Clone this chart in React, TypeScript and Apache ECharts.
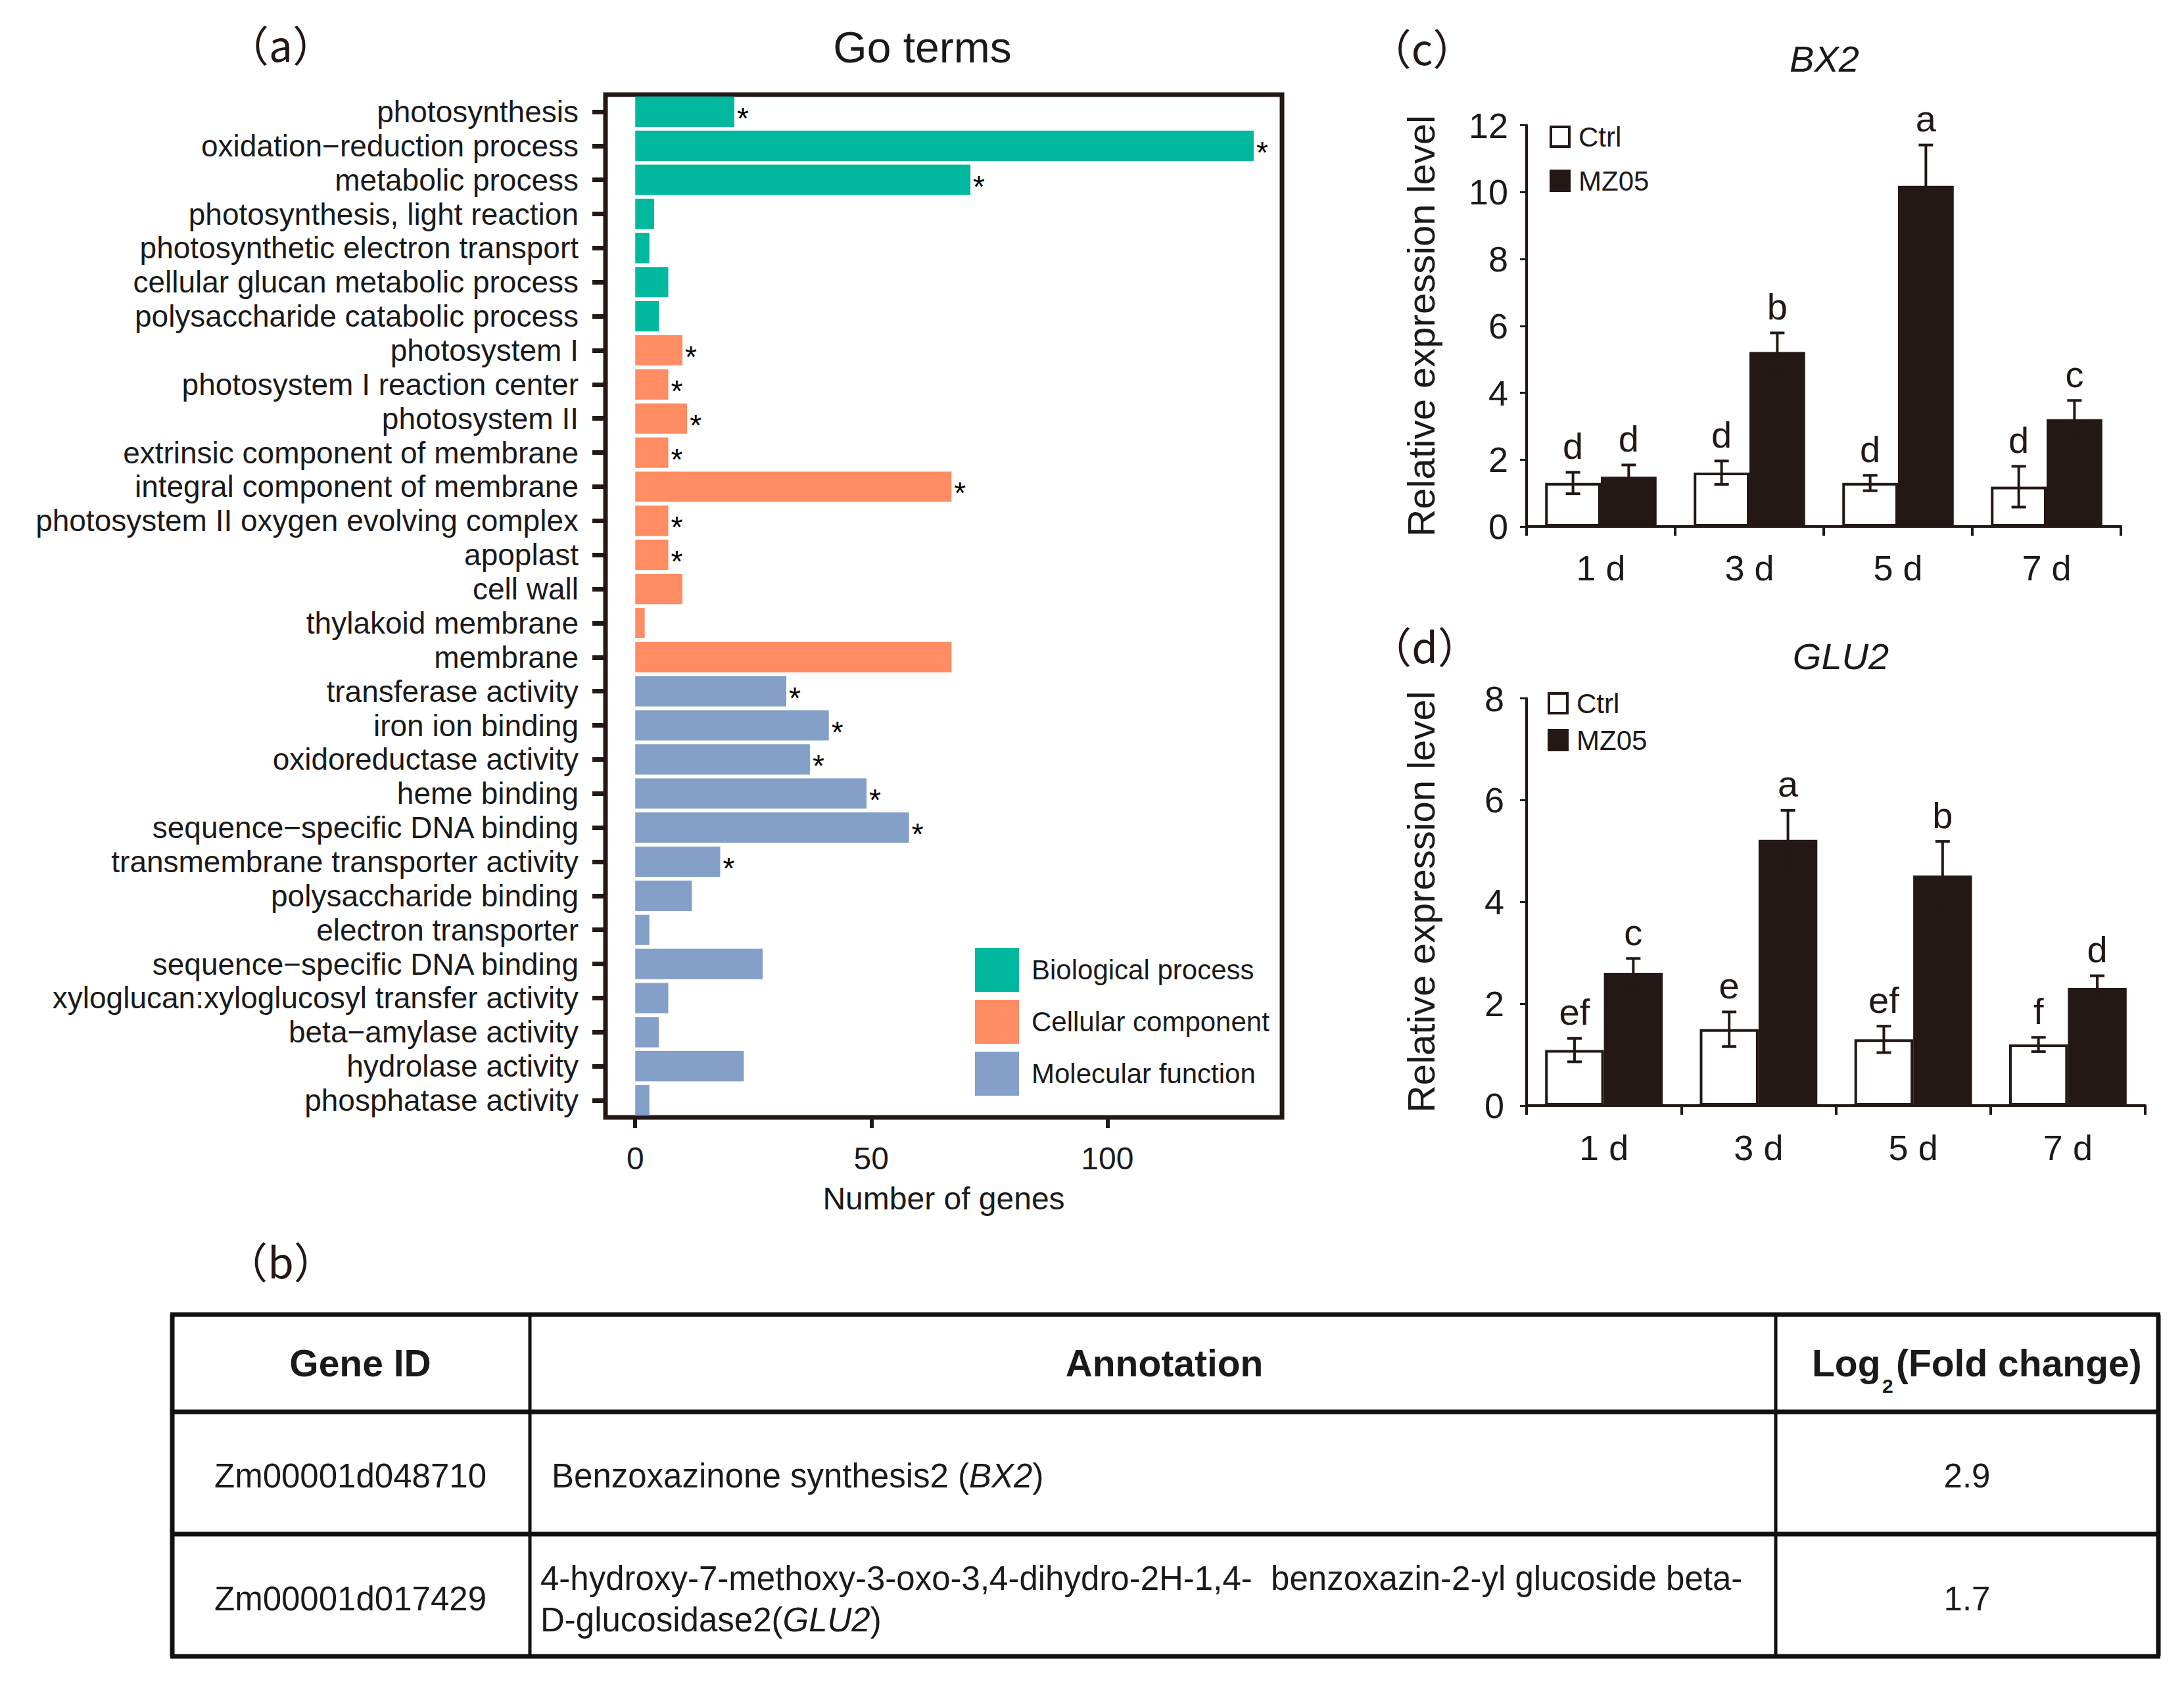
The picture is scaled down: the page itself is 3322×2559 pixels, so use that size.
import React, { useEffect, useRef } from 'react';
import * as echarts from 'echarts';

// ---------- Panel (a) data ----------
const goTerms = [
  'photosynthesis',
  'oxidation\u2212reduction process',
  'metabolic process',
  'photosynthesis, light reaction',
  'photosynthetic electron transport',
  'cellular glucan metabolic process',
  'polysaccharide catabolic process',
  'photosystem I',
  'photosystem I reaction center',
  'photosystem II',
  'extrinsic component of membrane',
  'integral component of membrane',
  'photosystem II oxygen evolving complex',
  'apoplast',
  'cell wall',
  'thylakoid membrane',
  'membrane',
  'transferase activity',
  'iron ion binding',
  'oxidoreductase activity',
  'heme binding',
  'sequence\u2212specific DNA binding',
  'transmembrane transporter activity',
  'polysaccharide binding',
  'electron transporter',
  'sequence\u2212specific DNA binding',
  'xyloglucan:xyloglucosyl transfer activity',
  'beta\u2212amylase activity',
  'hydrolase activity',
  'phosphatase activity',
];
const goValues = [21, 131, 71, 4, 3, 7, 5, 10, 7, 11, 7, 67, 7, 7, 10, 2, 67, 32, 41, 37, 49, 58, 18, 12, 3, 27, 7, 5, 23, 3];
// 0 = Biological process, 1 = Cellular component, 2 = Molecular function
const goGroup = [0, 0, 0, 0, 0, 0, 0, 1, 1, 1, 1, 1, 1, 1, 1, 1, 1, 2, 2, 2, 2, 2, 2, 2, 2, 2, 2, 2, 2, 2];
const goSignificant = [1, 1, 1, 0, 0, 0, 0, 1, 1, 1, 1, 1, 1, 1, 0, 0, 0, 1, 1, 1, 1, 1, 1, 0, 0, 0, 0, 0, 0, 0];
const goGroupNames = ['Biological process', 'Cellular component', 'Molecular function'];
const goXTicks = [0, 50, 100];

// ---------- Panel (c) data : BX2 ----------
const days = ['1 d', '3 d', '5 d', '7 d'];
const bx2Ctrl = [1.3, 1.61, 1.3, 1.19];
const bx2CtrlErr = [0.32, 0.35, 0.23, 0.61];
const bx2Mz = [1.49, 5.22, 10.19, 3.21];
const bx2MzErr = [0.35, 0.57, 1.22, 0.56];
const bx2CtrlLetters = ['d', 'd', 'd', 'd'];
const bx2MzLetters = ['d', 'b', 'a', 'c'];

// ---------- Panel (d) data : GLU2 ----------
const glu2Ctrl = [1.09, 1.5, 1.3, 1.2];
const glu2CtrlErr = [0.23, 0.34, 0.26, 0.14];
const glu2Mz = [2.61, 5.22, 4.52, 2.31];
const glu2MzErr = [0.28, 0.58, 0.67, 0.24];
const glu2CtrlLetters = ['ef', 'e', 'ef', 'f'];
const glu2MzLetters = ['c', 'a', 'b', 'd'];

// ---------- Panel (b) table ----------
const tableHeaders = ['Gene ID', 'Annotation'];
const geneIds = ['Zm00001d048710', 'Zm00001d017429'];
const annotationRow1 = ['Benzoxazinone synthesis2 (', 'BX2', ')'];
const annotationRow2Line1 = '4-hydroxy-7-methoxy-3-oxo-3,4-dihydro-2H-1,4-  benzoxazin-2-yl glucoside beta-';
const annotationRow2Line2 = ['D-glucosidase2(', 'GLU2', ')'];
const foldChanges = ['2.9', '1.7'];

// ---------- styles ----------
const FONT = 'Liberation Sans, Arial, sans-serif';
const CJK = 'Noto Sans CJK SC, sans-serif';
const DARK = '#231815';
const TEXT = '#1a1a1a';
const GO_COLORS = ['#00B89E', '#FF8C62', '#849FC8'];
const GAP_C = 0.25;
const GAP_D = 0.24;
const BODY = 51;
const HEAD = 57;

function makeErrRender(ctrlLetters: string[], mzLetters: string[], gap: number) {
  return (params: any, api: any) => {
    const cat = api.value(0);
    const val = api.value(1);
    const err = api.value(2);
    const side = api.value(3);
    const center = api.coord([cat, val]);
    const band = api.size([1, 0])[0];
    const bw = (band * (1 - gap)) / 2;
    const x = center[0] + (side === 0 ? -bw / 2 : bw / 2);
    const yTop = api.coord([cat, val + err])[1];
    const yBot = api.coord([cat, val - err])[1];
    const cap = 11;
    const ls = { stroke: DARK, lineWidth: 4 };
    const letter = side === 0 ? ctrlLetters[cat] : mzLetters[cat];
    return {
      type: 'group',
      children: [
        { type: 'line', shape: { x1: x, y1: yTop, x2: x, y2: yBot }, style: ls },
        { type: 'line', shape: { x1: x - cap, y1: yTop, x2: x + cap, y2: yTop }, style: ls },
        { type: 'line', shape: { x1: x - cap, y1: yBot, x2: x + cap, y2: yBot }, style: ls },
        {
          type: 'text',
          x: x,
          y: yTop - 12,
          style: {
            text: letter,
            fontSize: 56,
            fontFamily: FONT,
            fill: DARK,
            align: 'center',
            verticalAlign: 'bottom',
          },
        },
      ],
    };
  };
}

function errData(ctrl: number[], ctrlErr: number[], mz: number[], mzErr: number[]) {
  const out: number[][] = [];
  ctrl.forEach((v, i) => out.push([i, v, ctrlErr[i], 0]));
  mz.forEach((v, i) => out.push([i, v, mzErr[i], 1]));
  return out;
}

function buildOption(): any {
  const goSeries = goGroupNames.map((name, k) => ({
    type: 'bar',
    name,
    xAxisIndex: 0,
    yAxisIndex: 0,
    barGap: '-100%',
    barCategoryGap: '11%',
    itemStyle: { color: GO_COLORS[k] },
    label: {
      show: false,
      position: 'right',
      distance: 4,
      offset: [0, 10],
      formatter: '*',
      fontSize: 46,
      fontFamily: FONT,
      color: '#000',
    },
    data: goValues.map((v, i) =>
      goGroup[i] === k ? { value: v, label: { show: goSignificant[i] === 1 } } : '-'
    ),
  }));

  const ctrlStyle = { color: '#ffffff', borderColor: DARK, borderWidth: 4 };
  const mzStyle = { color: DARK, borderColor: DARK, borderWidth: 4 };

  const qAxisLabel = { fontSize: 54, fontFamily: FONT, color: TEXT };

  const graphic: any[] = [];
  const panelLetter = (t: string, x: number, y: number) => ({
    type: 'text',
    x,
    y,
    style: { text: t, fontSize: 64, fontFamily: CJK, fill: DARK, align: 'center', verticalAlign: 'middle' },
  });
  graphic.push(panelLetter('（a）', 427, 66));
  graphic.push(panelLetter('（b）', 427, 1917));
  graphic.push(panelLetter('（c）', 2163, 71));
  graphic.push(panelLetter('（d）', 2167, 981));

  graphic.push({
    type: 'text',
    x: 1403,
    y: 72,
    style: { text: 'Go terms', fontSize: 66, fontFamily: FONT, fill: TEXT, align: 'center', verticalAlign: 'middle' },
  });
  graphic.push({
    type: 'text',
    x: 2775,
    y: 89,
    style: { text: 'BX2', fontSize: 56, fontStyle: 'italic', fontFamily: FONT, fill: TEXT, align: 'center', verticalAlign: 'middle' },
  });
  graphic.push({
    type: 'text',
    x: 2800,
    y: 998,
    style: { text: 'GLU2', fontSize: 56, fontStyle: 'italic', fontFamily: FONT, fill: TEXT, align: 'center', verticalAlign: 'middle' },
  });

  // ---- table (b) ----
  const colX = [262, 806, 2701, 3283];
  const rowY = [2000, 2148, 2334, 2520];
  rowY.forEach((y) =>
    graphic.push({
      type: 'line',
      shape: { x1: colX[0] - 3, y1: y, x2: colX[3] + 3, y2: y },
      style: { stroke: '#111', lineWidth: 7 },
    })
  );
  colX.forEach((x, i) =>
    graphic.push({
      type: 'line',
      shape: { x1: x, y1: rowY[0], x2: x, y2: rowY[3] },
      style: { stroke: '#111', lineWidth: i === 0 || i === 3 ? 7 : 5 },
    })
  );
  const txt = (t: string, x: number, y: number, size: number, align = 'center', weight = 'normal') => ({
    type: 'text',
    x,
    y,
    style: {
      text: t,
      fontSize: size,
      fontFamily: FONT,
      fontWeight: weight,
      fill: TEXT,
      align,
      verticalAlign: 'middle',
    },
  });
  const richTxt = (parts: string[], x: number, y: number) => ({
    type: 'text',
    x,
    y,
    style: {
      text: `{n|${parts[0]}}{i|${parts[1]}}{n|${parts[2]}}`,
      fontSize: BODY,
      fontFamily: FONT,
      fill: TEXT,
      align: 'left',
      verticalAlign: 'middle',
      rich: {
        n: { fontSize: BODY, fontFamily: FONT, fill: TEXT },
        i: { fontSize: BODY, fontFamily: FONT, fill: TEXT, fontStyle: 'italic' },
      },
    },
  });
  graphic.push(txt(tableHeaders[0], 548, 2074, HEAD, 'center', 'bold'));
  graphic.push(txt(tableHeaders[1], 1771, 2074, HEAD, 'center', 'bold'));
  graphic.push(txt('Log', 2756, 2074, HEAD, 'left', 'bold'));
  graphic.push(txt('2', 2863, 2108, 30, 'left', 'bold'));
  graphic.push(txt('(Fold change)', 2884, 2074, HEAD, 'left', 'bold'));
  graphic.push(txt(geneIds[0], 533, 2245, BODY));
  graphic.push(txt(geneIds[1], 533, 2432, BODY));
  graphic.push(richTxt(annotationRow1, 839, 2245));
  graphic.push(txt(annotationRow2Line1, 822, 2401, BODY, 'left'));
  graphic.push(richTxt(annotationRow2Line2, 822, 2464));
  graphic.push(txt(foldChanges[0], 2992, 2245, BODY));
  graphic.push(txt(foldChanges[1], 2992, 2432, BODY));

  return {
    animation: false,
    backgroundColor: '#ffffff',
    grid: [
      {
        left: 921,
        top: 144,
        width: 1029,
        height: 1556,
        show: true,
        borderColor: DARK,
        borderWidth: 7,
        backgroundColor: 'transparent',
        containLabel: false,
      },
      { left: 2322, top: 190.6, width: 904, height: 610.4, containLabel: false },
      { left: 2322, top: 1062.5, width: 941, height: 619.5, containLabel: false },
    ],
    legend: [
      {
        data: goGroupNames,
        orient: 'vertical',
        left: 1483,
        top: 1442,
        padding: 0,
        itemWidth: 67,
        itemHeight: 67,
        itemGap: 12,
        icon: 'rect',
        itemStyle: { borderWidth: 0 },
        textStyle: { fontSize: 42, fontFamily: FONT, color: TEXT, padding: [0, 0, 0, 14] },
        selectedMode: false,
      },
      {
        data: ['Ctrl', 'MZ05'],
        orient: 'vertical',
        left: 2357,
        top: 187,
        padding: 0,
        itemWidth: 28,
        itemHeight: 30,
        itemGap: 25,
        icon: 'rect',
        itemStyle: { borderWidth: 4, borderColor: DARK },
        textStyle: { fontSize: 42, fontFamily: FONT, color: TEXT, padding: [0, 0, 0, 9] },
        selectedMode: false,
      },
      {
        data: ['Ctrl', 'MZ05'],
        orient: 'vertical',
        left: 2354,
        top: 1049,
        padding: 0,
        itemWidth: 28,
        itemHeight: 30,
        itemGap: 14,
        icon: 'rect',
        itemStyle: { borderWidth: 4, borderColor: DARK },
        textStyle: { fontSize: 42, fontFamily: FONT, color: TEXT, padding: [0, 0, 0, 9] },
        selectedMode: false,
      },
    ],
    xAxis: [
      {
        gridIndex: 0,
        type: 'value',
        min: -6.3,
        max: 137,
        position: 'bottom',
        axisLine: { show: false, onZero: false },
        splitLine: { show: false },
        axisTick: { show: true, length: 16, customValues: goXTicks, lineStyle: { color: DARK, width: 6 } },
        axisLabel: { customValues: goXTicks, margin: 38, fontSize: 48, fontFamily: FONT, color: TEXT },
        name: 'Number of genes',
        nameLocation: 'middle',
        nameGap: 99,
        nameTextStyle: { fontSize: 48, fontFamily: FONT, color: TEXT },
      },
      {
        gridIndex: 1,
        type: 'category',
        data: days,
        axisLine: { show: true, lineStyle: { color: DARK, width: 4 } },
        axisTick: { show: true, length: 14, lineStyle: { color: DARK, width: 4 } },
        axisLabel: { ...qAxisLabel, margin: 36 },
      },
      {
        gridIndex: 2,
        type: 'category',
        data: days,
        axisLine: { show: true, lineStyle: { color: DARK, width: 4 } },
        axisTick: { show: true, length: 14, lineStyle: { color: DARK, width: 4 } },
        axisLabel: { ...qAxisLabel, margin: 37 },
      },
    ],
    yAxis: [
      {
        gridIndex: 0,
        type: 'category',
        data: goTerms,
        inverse: true,
        position: 'left',
        axisLine: { show: false, onZero: false },
        axisTick: { show: true, alignWithLabel: true, length: 20, lineStyle: { color: DARK, width: 7 } },
        axisLabel: { fontSize: 46, fontFamily: FONT, color: TEXT, margin: 41, interval: 0 },
        splitLine: { show: false },
      },
      {
        gridIndex: 1,
        type: 'value',
        min: 0,
        max: 12,
        interval: 2,
        axisLine: { show: true, lineStyle: { color: DARK, width: 4 } },
        axisTick: { show: true, length: 10, lineStyle: { color: DARK, width: 3 } },
        axisLabel: { ...qAxisLabel, margin: 28 },
        splitLine: { show: false },
        name: 'Relative expression level',
        nameLocation: 'middle',
        nameRotate: 90,
        nameGap: 132,
        nameTextStyle: { fontSize: 58, fontFamily: FONT, color: TEXT },
      },
      {
        gridIndex: 2,
        type: 'value',
        min: 0,
        max: 8,
        interval: 2,
        axisLine: { show: true, lineStyle: { color: DARK, width: 4 } },
        axisTick: { show: true, length: 10, lineStyle: { color: DARK, width: 3 } },
        axisLabel: { ...qAxisLabel, margin: 34 },
        splitLine: { show: false },
        name: 'Relative expression level',
        nameLocation: 'middle',
        nameRotate: 90,
        nameGap: 132,
        nameTextStyle: { fontSize: 58, fontFamily: FONT, color: TEXT },
      },
    ],
    series: [
      ...goSeries,
      {
        type: 'bar',
        name: 'Ctrl',
        xAxisIndex: 1,
        yAxisIndex: 1,
        barGap: '0%',
        barCategoryGap: `${GAP_C * 100}%`,
        itemStyle: ctrlStyle,
        data: bx2Ctrl,
      },
      {
        type: 'bar',
        name: 'MZ05',
        xAxisIndex: 1,
        yAxisIndex: 1,
        barGap: '0%',
        barCategoryGap: `${GAP_C * 100}%`,
        itemStyle: mzStyle,
        data: bx2Mz,
      },
      {
        type: 'custom',
        name: 'errC',
        xAxisIndex: 1,
        yAxisIndex: 1,
        z: 10,
        renderItem: makeErrRender(bx2CtrlLetters, bx2MzLetters, GAP_C),
        data: errData(bx2Ctrl, bx2CtrlErr, bx2Mz, bx2MzErr),
      },
      {
        type: 'bar',
        name: 'Ctrl',
        xAxisIndex: 2,
        yAxisIndex: 2,
        barGap: '0%',
        barCategoryGap: `${GAP_D * 100}%`,
        itemStyle: ctrlStyle,
        data: glu2Ctrl,
      },
      {
        type: 'bar',
        name: 'MZ05',
        xAxisIndex: 2,
        yAxisIndex: 2,
        barGap: '0%',
        barCategoryGap: `${GAP_D * 100}%`,
        itemStyle: mzStyle,
        data: glu2Mz,
      },
      {
        type: 'custom',
        name: 'errD',
        xAxisIndex: 2,
        yAxisIndex: 2,
        z: 10,
        renderItem: makeErrRender(glu2CtrlLetters, glu2MzLetters, GAP_D),
        data: errData(glu2Ctrl, glu2CtrlErr, glu2Mz, glu2MzErr),
      },
    ],
    graphic,
  };
}

export default function App() {
  const ref = useRef<HTMLDivElement>(null);
  useEffect(() => {
    if (!ref.current) return;
    const chart = echarts.init(ref.current, null, { renderer: 'svg' });
    chart.setOption(buildOption());
    return () => chart.dispose();
  }, []);
  return (
    <div
      ref={ref}
      style={{ position: 'fixed', left: 0, top: 0, width: 3322, height: 2559, background: '#ffffff' }}
    />
  );
}
